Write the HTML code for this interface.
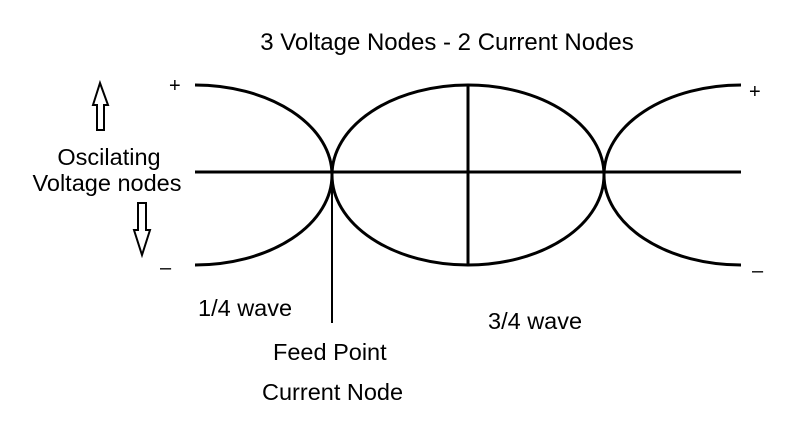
<!DOCTYPE html>
<html><head><style>body{margin:0;background:#fff}svg{display:block}</style></head><body>
<svg width="805" height="426" viewBox="0 0 805 426" font-family="Liberation Sans, sans-serif" font-size="23.5">
<rect width="805" height="426" fill="#fff"/>
<g stroke="#000" stroke-width="3" fill="none">
<line x1="195" y1="172" x2="741" y2="172"/>
<path d="M195,85 A137,90 0 0 1 195,265"/>
<ellipse cx="468" cy="175" rx="136" ry="90"/>
<line x1="468" y1="86" x2="468" y2="265"/>
<path d="M741,85 A137,90 0 0 0 741,265"/>
</g>
<line x1="332" y1="172" x2="332" y2="323" stroke="#000" stroke-width="2"/>
<g stroke="#000" stroke-width="2" fill="#fff">
<path d="M100,83 L108,105 L104,105 L104,130 L97,130 L97,105 L93,105 Z"/>
<path d="M142,255 L150,230 L146,230 L146,203 L138,203 L138,230 L134,230 Z"/>
</g>
<g fill="#000">
<text x="447" y="50" text-anchor="middle" font-size="24">3 Voltage Nodes - 2 Current Nodes</text>
<text x="169" y="92" font-size="20">+</text>
<text x="749" y="98" font-size="20">+</text>
<text x="160" y="274" font-size="20">–</text>
<text x="752" y="277" font-size="20">–</text>
<text x="109" y="165" text-anchor="middle">Oscilating</text>
<text x="107" y="191" text-anchor="middle">Voltage nodes</text>
<text x="198" y="316">1/4 wave</text>
<text x="488" y="329">3/4 wave</text>
<text x="273" y="360">Feed Point</text>
<text x="262" y="400">Current Node</text>
</g>
</svg>
</body></html>
